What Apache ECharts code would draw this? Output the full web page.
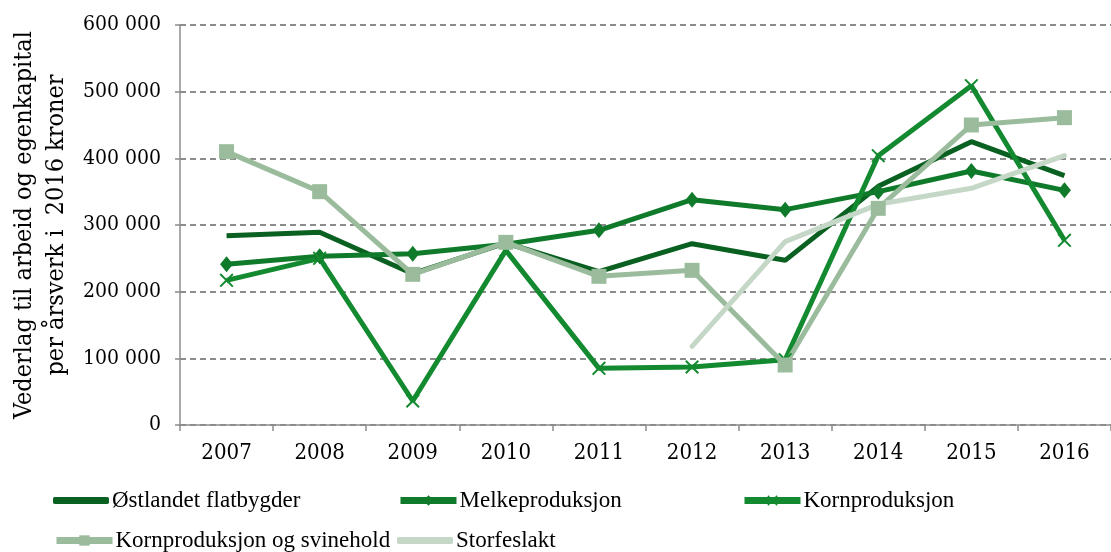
<!DOCTYPE html>
<html>
<head>
<meta charset="utf-8">
<script src="https://cdn.jsdelivr.net/npm/echarts@6/dist/echarts.min.js"></script>
<style>
  html, body { margin: 0; padding: 0; background: #fff; }
  #chart { width: 1111px; height: 552px; }
</style>
</head>
<body>
<div id="chart"></div>
<script>
// data
const years = ['2007','2008','2009','2010','2011','2012','2013','2014','2015','2016'];
const ostlandet = [284000, 289000, 227000, 273000, 230000, 272000, 247000, 358000, 425000, 374000];
const melk = [241000, 253000, 257000, 271000, 292000, 338000, 323000, 350000, 381000, 352000];
const korn = [217000, 250000, 36000, 262000, 85000, 87000, 98000, 404000, 509000, 277000];
const kornSvin = [410000, 350000, 226000, 274000, 223000, 232000, 90000, 325000, 450000, 461000];
const storfe = [null, null, null, null, null, 118000, 275000, 331000, 355000, 404000];
const yTicks = [0, 100000, 200000, 300000, 400000, 500000, 600000];

const tickFont = '"DejaVu Serif Condensed", "DejaVu Serif", serif';
const legendFont = '"Liberation Serif", serif';
const crossPath = 'path://M1,0L5,4L9,0L10,1L6,5L10,9L9,10L5,6L1,10L0,9L4,5L0,1Z';

const myChart = echarts.init(document.getElementById('chart'));

// one legend per slot, the legend sits in a 3-column grid
function legendAt(name, left, top, plain) {
  const item = { name: name };
  if (plain) item.icon = 'roundRect'; // series without marker: just a thick bar
  return {
    data: [item],
    left: left,
    top: top,
    padding: 0,
    itemWidth: 56,
    itemHeight: plain ? 7 : 13,
    itemGap: 0,
    selectedMode: false,
    lineStyle: { width: 7 },
    textStyle: { fontFamily: legendFont, fontSize: 23, color: '#000', padding: [0, 0, 0, -2] }
  };
}

myChart.setOption({
  animation: false,
  grid: { left: 177, top: 25, right: -13, bottom: 127 },
  legend: [
    legendAt('Østlandet flatbygder', 53, 489, true),
    legendAt('Melkeproduksjon', 397, 489),
    legendAt('Kornproduksjon', 741, 489),
    legendAt('Kornproduksjon og svinehold', 53, 529),
    legendAt('Storfeslakt', 397, 529, true)
  ],
  xAxis: {
    type: 'category',
    data: years,
    boundaryGap: true,
    axisLine: { lineStyle: { color: '#8c8c8c', width: 1.5 } },
    axisTick: { show: true, length: 6, interval: 0, lineStyle: { color: '#8c8c8c', width: 1.5 } },
    axisLabel: { color: '#000', fontFamily: tickFont, fontSize: 22, margin: 17 }
  },
  yAxis: {
    type: 'value',
    min: 0,
    max: 600000,
    interval: 100000,
    name: 'Vederlag til arbeid og egenkapital\nper årsverk i  2016 kroner',
    nameLocation: 'middle',
    nameRotate: 90,
    nameGap: 105,
    nameTextStyle: { color: '#000', fontFamily: tickFont, fontSize: 25, lineHeight: 32 },
    axisLine: { show: true, lineStyle: { color: '#8c8c8c', width: 1.5 } },
    axisTick: { show: true, length: 5, lineStyle: { color: '#8c8c8c', width: 1.5 } },
    axisLabel: {
      color: '#000', fontFamily: tickFont, fontSize: 21, margin: 19,
      formatter: function (v) {
        return yTicks.indexOf(v) < 0 ? '' : String(v).replace(/\B(?=(\d{3})+(?!\d))/g, ' ');
      }
    },
    splitLine: { lineStyle: { color: '#8c8c8c', type: [6, 4], width: 2 } }
  },
  series: [
    {
      name: 'Østlandet flatbygder', type: 'line', data: ostlandet,
      symbol: 'none', color: '#0a6020',
      lineStyle: { width: 5, color: '#0a6020' }
    },
    {
      name: 'Melkeproduksjon', type: 'line', data: melk,
      symbol: 'diamond', symbolSize: [13, 16], color: '#0f7a2a',
      lineStyle: { width: 5, color: '#0f7a2a' }
    },
    {
      name: 'Kornproduksjon', type: 'line', data: korn,
      symbol: crossPath, symbolSize: 14, color: '#138a30',
      lineStyle: { width: 5, color: '#138a30' }
    },
    {
      name: 'Kornproduksjon og svinehold', type: 'line', data: kornSvin,
      symbol: 'rect', symbolSize: 15, color: '#9bbc9c',
      lineStyle: { width: 5, color: '#9bbc9c' }
    },
    {
      name: 'Storfeslakt', type: 'line', data: storfe,
      symbol: 'none', color: '#c5d7c6', connectNulls: false,
      lineStyle: { width: 5, color: '#c5d7c6', cap: 'round' }
    }
  ]
});
</script>
</body>
</html>
